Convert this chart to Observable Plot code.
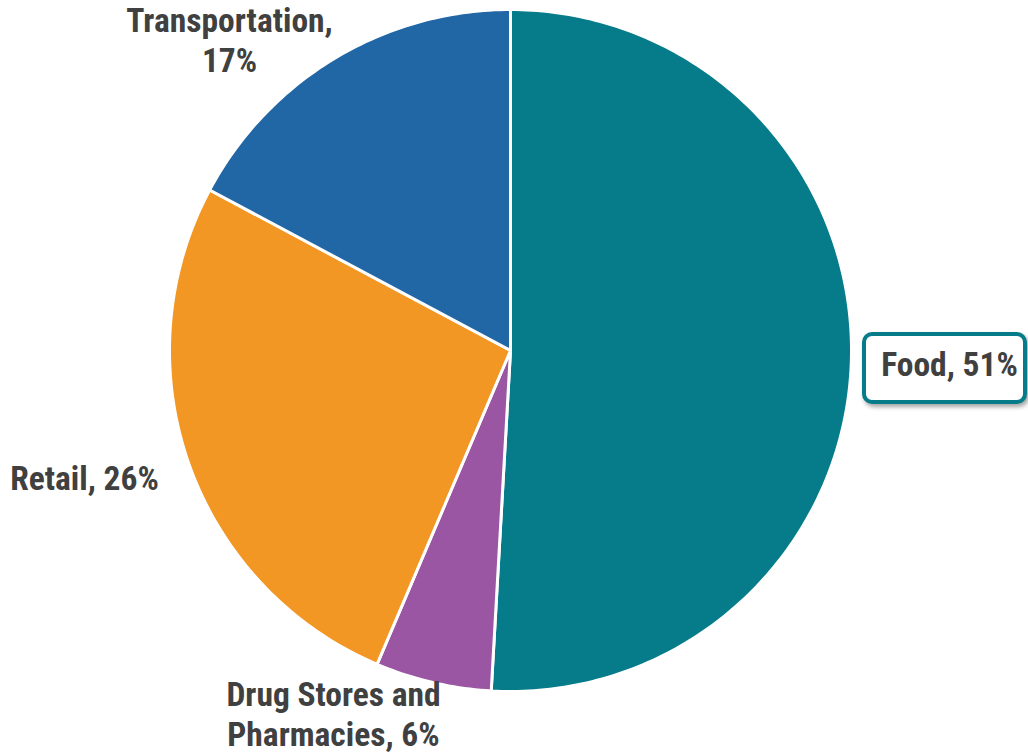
<!DOCTYPE html>
<html>
<head>
<meta charset="utf-8">
<script src="https://cdn.jsdelivr.net/npm/d3@7"></script>
<script src="https://cdn.jsdelivr.net/npm/@observablehq/plot@0.6"></script>
<style>
  html, body { margin: 0; padding: 0; background: #fff; }
  #chart svg { display: block; }
</style>
</head>
<body>
<div id="chart"></div>
<script>
// ---- Data ----
const categories = ["Food", "Drug Stores and Pharmacies", "Retail", "Transportation"];
const shares = [50.9, 5.5, 26.4, 17.2];
const labels = ["Food, 51%", "Drug Stores and\nPharmacies, 6%", "Retail, 26%", "Transportation,\n17%"];
const colors = ["#067B8A", "#9A56A3", "#F29624", "#2166A5"];

// ---- Layout (pixels) ----
const W = 1028, H = 753;
const cx = 510, cy = 350, R = 341;
const px = v => (v - cx) / R;      // pixel x -> data x
const py = v => (cy - v) / R;      // pixel y -> data y
const labelPos = [[949, 363], [333, 713], [84, 477], [229, 39]];

// Build slice polygons from the shares
const total = d3.sum(shares);
const polys = [];
let cum = 0;
categories.forEach((c, i) => {
  const a0 = cum / total * 2 * Math.PI;
  cum += shares[i];
  const a1 = cum / total * 2 * Math.PI;
  const n = Math.max(2, Math.ceil((a1 - a0) / (2 * Math.PI) * 400));
  polys.push({cat: c, x: 0, y: 0});
  for (let k = 0; k <= n; k++) {
    const a = a0 + (a1 - a0) * k / n;
    polys.push({cat: c, x: Math.sin(a), y: Math.cos(a)});
  }
  polys.push({cat: c, x: 0, y: 0});
});

const labelData = categories.map((c, i) => ({cat: c, text: labels[i], x: px(labelPos[i][0]), y: py(labelPos[i][1])}));
const boxData = [{x1: px(864), x2: px(1025), y1: py(334), y2: py(402)}];

const font = "'Liberation Sans Narrow', 'Arial Narrow', 'Roboto Condensed', 'DejaVu Sans Condensed', sans-serif";

const chart = Plot.plot({
  width: W,
  height: H,
  margin: 0,
  x: {domain: [px(0), px(W)], axis: null},
  y: {domain: [py(H), py(0)], axis: null},
  color: {domain: categories, range: colors},
  marks: [
    Plot.line(polys, {x: "x", y: "y", z: "cat", fill: "cat", stroke: "white", strokeWidth: 3, strokeLinejoin: "round", curve: "linear"}),
    Plot.rect(boxData, {x1: "x1", x2: "x2", y1: "y1", y2: "y2", fill: "white", stroke: "#067B8A", strokeWidth: 4, rx: 8, className: "foodbox"}),
    Plot.text(labelData, {x: "x", y: "y", text: "text", fill: "#404040", fontSize: 33.5, fontWeight: "bold", fontFamily: font, lineHeight: 1.17, textAnchor: "middle", lineAnchor: "middle"})
  ]
});
d3.select(chart).selectAll(".foodbox rect").style("filter", "drop-shadow(2px 3px 2px rgba(0,0,0,0.35))");
document.getElementById("chart").appendChild(chart);
</script>
</body>
</html>
